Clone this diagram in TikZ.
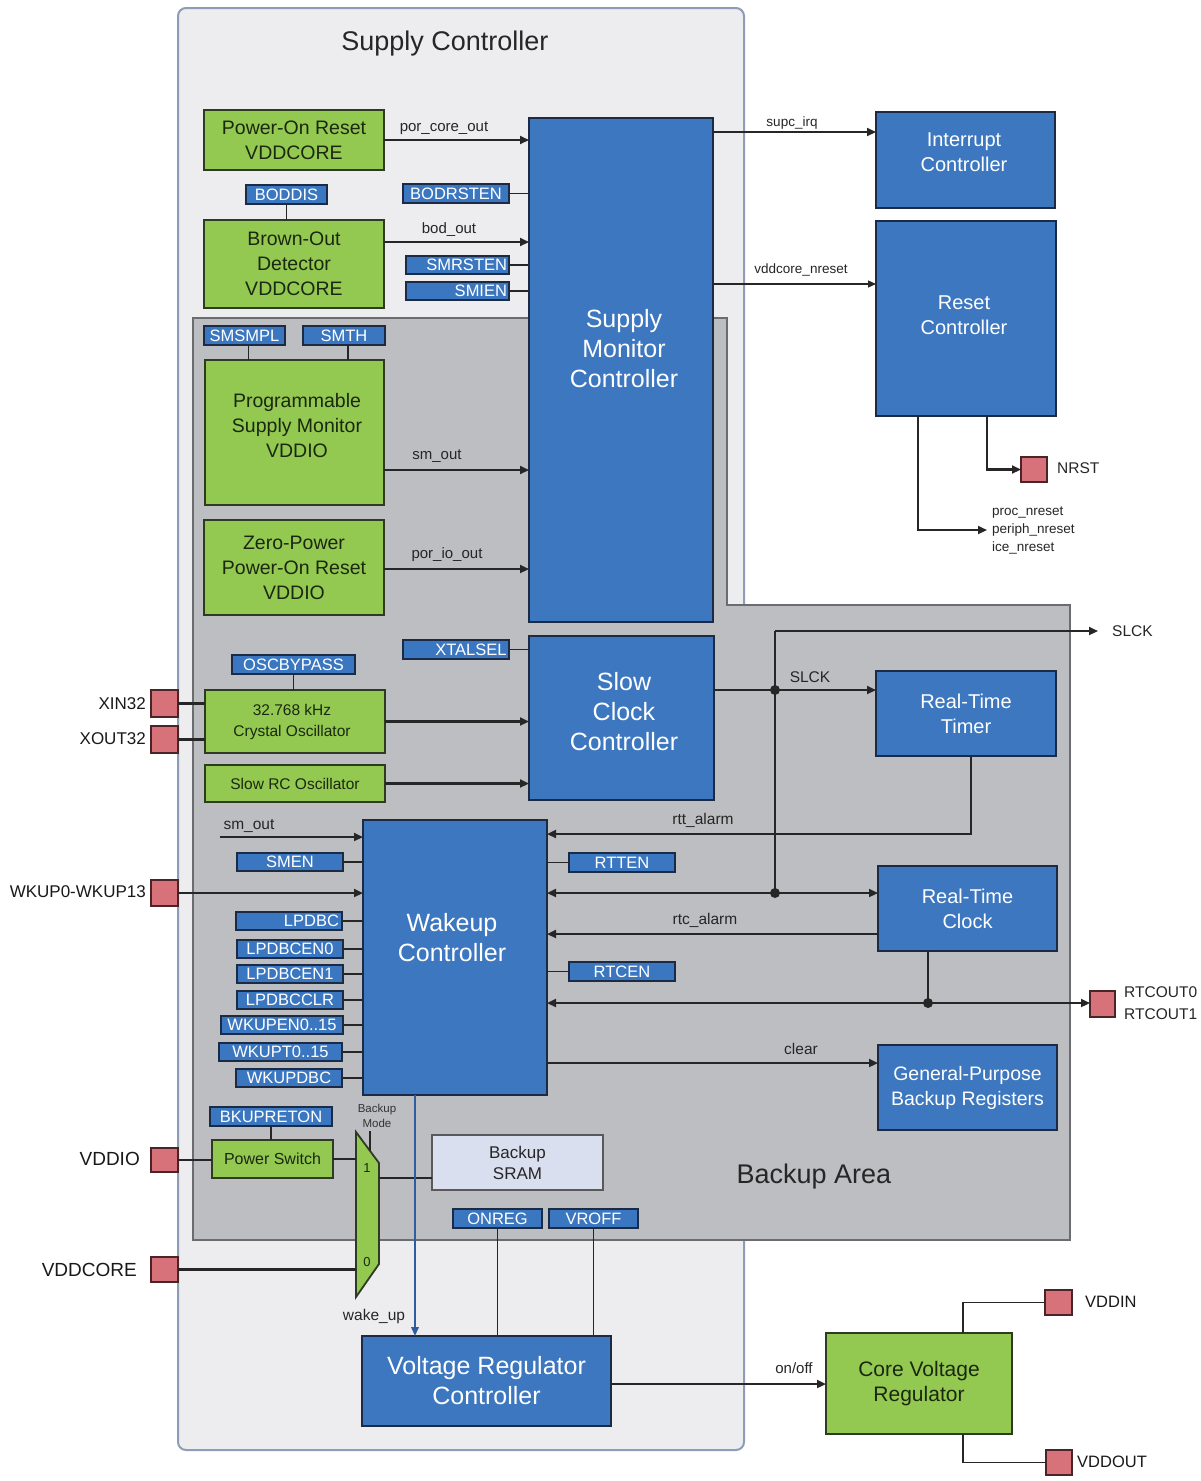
\documentclass[tikz,border=0pt]{standalone}
\usepackage{fontspec}
\setmainfont{Liberation Sans}
\usetikzlibrary{arrows.meta}
\definecolor{bblue}{HTML}{3C77BF}
\definecolor{bdark}{HTML}{1C2B45}
\definecolor{ggreen}{HTML}{93C851}
\definecolor{gdark}{HTML}{2E3B22}
\definecolor{gtext}{HTML}{1B2810}
\definecolor{rblue}{HTML}{3B77C0}
\definecolor{padc}{HTML}{D8727A}
\definecolor{pdark}{HTML}{4A2426}
\definecolor{scbg}{HTML}{EDEDF0}
\definecolor{scbd}{HTML}{8D9DB8}
\definecolor{bkg}{HTML}{BDBEC1}
\definecolor{bkbd}{HTML}{6B6C6F}
\definecolor{sramc}{HTML}{D9DFEF}
\definecolor{wcol}{HTML}{262626}
\definecolor{wblue}{HTML}{2F5E9E}
\newcommand\myfs[2]{\fontsize{#1}{#2}\selectfont}
\newcommand\rtext[2]{\makebox[#1pt][r]{#2}}
\newcommand\mkbox[7]{\node[#1, anchor=north west, minimum width={#5-#3}, minimum height={#6-#4}] (#2) at (#3,#4) {#7};}
\begin{document}
\begin{tikzpicture}[x=1pt,y=-1pt,
 blk/.style={draw=bdark, fill=bblue, line width=2pt, text=white, align=center, inner sep=0pt, outer sep=0pt, font=\myfs{20}{25}},
 bigtxt/.style={text=white, align=center, font=\myfs{25}{30}, inner sep=0pt},
 grn/.style={draw=gdark, fill=ggreen, line width=2pt, text=gtext, align=center, inner sep=0pt, outer sep=0pt, font=\myfs{19.5}{25}},
 gtxt/.style={text=gtext, align=center, font=\myfs{19.5}{25}, inner sep=0pt},
 reg/.style={draw=bdark, fill=rblue, line width=1.7pt, text=white, inner sep=0pt, outer sep=0pt, font=\myfs{16.5}{18}},
 padbox/.style={draw=pdark, fill=padc, line width=1.6pt, inner sep=0pt, outer sep=0pt},
 srambox/.style={draw=gray!70!black, fill=sramc, line width=1.4pt, text=black!85, align=center, inner sep=0pt, outer sep=0pt, font=\myfs{17}{21}},
 wire/.style={draw=wcol, line width=2.1pt},
 rwire/.style={draw=wcol, line width=1.7pt},
 twire/.style={draw=wcol, line width=1.2pt},
 arr/.style={wire, -{Triangle[length=9pt,width=8pt]}},
 tarr/.style={twire, -{Triangle[length=8pt,width=7pt]}},
 sig/.style={font=\myfs{15}{18}, text=black!85, inner sep=0pt},
 smallsig/.style={font=\myfs{13.5}{18}, text=black!85, inner sep=0pt},
 pinlbl/.style={font=\myfs{17}{22}, text=black!90, inner sep=0pt},
 title/.style={font=\myfs{27}{32}, text=black!85, inner sep=0pt},
]
\useasboundingbox (0,0) rectangle (1201,1481);
\fill[white] (0,0) rectangle (1201,1481);

% areas
\draw[fill=scbg, draw=scbd, line width=2pt, rounded corners=8pt] (178,8) rectangle (744,1450);
\node[title] (sctitle) at (445,44) {Supply Controller};
\draw[fill=bkg, draw=bkbd, line width=1.8pt] (193,318) -- (727,318) -- (727,605) -- (1070,605) -- (1070,1240) -- (193,1240) -- cycle;
\node[title] (batitle) at (814,1177) {Backup Area};

% top section
\mkbox{grn}{por}{204}{110}{384}{170}{Power-On Reset\\VDDCORE}
\mkbox{reg}{boddis}{246}{185}{327}{204}{BODDIS}
\mkbox{grn}{bod}{204}{220}{384}{308}{Brown-Out\\Detector\\VDDCORE}
\mkbox{blk}{smc}{529}{118}{713}{622}{}
\node[bigtxt] (smct) at (624,349) {Supply\\Monitor\\Controller};
\mkbox{reg}{bodrsten}{403}{184}{509}{203}{BODRSTEN}
\mkbox{reg}{smrsten}{406}{256}{509}{274}{\rtext{99}{SMRSTEN}}
\mkbox{reg}{smien}{406}{282}{509}{300}{\rtext{99}{SMIEN}}
\mkbox{reg}{smsmpl}{204}{326}{285}{345}{SMSMPL}
\mkbox{reg}{smth}{303}{326}{385}{345}{SMTH}
\mkbox{grn}{psm}{205}{360}{384}{505}{}
\node[gtxt] (psmt) at (297,426) {Programmable\\Supply Monitor\\VDDIO};
\mkbox{grn}{zppor}{204}{520}{384}{615}{Zero-Power\\Power-On Reset\\VDDIO}

\mkbox{blk}{ic}{876}{112}{1055}{208}{}
\node[blk, draw=none, fill=none] (ict) at (964,152) {Interrupt\\Controller};
\mkbox{blk}{rc}{876}{221}{1056}{416}{}
\node[blk, draw=none, fill=none] (rct) at (964,315) {Reset\\Controller};
\mkbox{padbox}{nrst}{1021}{457}{1047}{482}{}
\node[sig, anchor=west, font=\myfs{15.5}{18}] (nrstl) at (1057,468) {NRST};
\coordinate (rstout) at (987,530);
\node[smallsig, anchor=west, align=left] (rstl) at (992,530) {proc\_nreset\\periph\_nreset\\ice\_nreset};

% clock section
\mkbox{reg}{oscbypass}{232}{655}{355}{674}{OSCBYPASS}
\mkbox{grn,font=\myfs{15.5}{21}}{xtal}{205}{690}{385}{753}{}
\node[gtxt, font=\myfs{15.5}{21}] (xtalt) at (292,722) {32.768 kHz\\Crystal Oscillator};
\mkbox{padbox}{xin}{151}{690}{178}{717}{}
\mkbox{padbox}{xout}{151}{726}{178}{753}{}
\node[pinlbl, anchor=east] (xinl) at (146,704) {XIN32};
\node[pinlbl, anchor=east] (xoutl) at (146,739) {XOUT32};
\mkbox{grn,font=\myfs{15.5}{19}}{rcosc}{205}{765}{385}{802}{Slow RC Oscillator}
\mkbox{reg}{xtalsel}{403}{640}{509}{659}{\rtext{101}{XTALSEL}}
\mkbox{blk}{scc}{529}{636}{714}{800}{}
\node[bigtxt] (scct) at (624,712) {Slow\\Clock\\Controller};
\mkbox{blk}{rtt}{876}{671}{1056}{756}{Real-Time\\Timer}

% wakeup section
\mkbox{blk}{wc}{363}{820}{547}{1095}{}
\node[bigtxt] (wct) at (452,938) {Wakeup\\Controller};
\mkbox{reg}{smen}{237}{853}{343}{871}{SMEN}
\mkbox{padbox}{wkup}{151}{880}{178}{906}{}
\node[pinlbl, anchor=east] (wkupl) at (146,892) {WKUP0-WKUP13};
\mkbox{reg}{lpdbc}{236}{912}{342}{930}{\rtext{100}{LPDBC}}
\mkbox{reg}{lpdbcen0}{237}{940}{343}{958}{LPDBCEN0}
\mkbox{reg}{lpdbcen1}{237}{965}{343}{983}{LPDBCEN1}
\mkbox{reg}{lpdbcclr}{237}{991}{343}{1009}{LPDBCCLR}
\mkbox{reg}{wkupen}{221}{1016}{343}{1034}{WKUPEN0..15}
\mkbox{reg}{wkupt}{219}{1043}{342}{1061}{WKUPT0..15}
\mkbox{reg}{wkupdbc}{236}{1069}{342}{1087}{WKUPDBC}
\mkbox{reg}{rtten}{569}{853}{675}{872}{RTTEN}
\mkbox{blk}{rtc}{878}{866}{1057}{951}{Real-Time\\Clock}
\mkbox{reg}{rtcen}{569}{962}{675}{981}{RTCEN}
\mkbox{padbox}{rtcout}{1090}{991}{1115}{1017}{}
\node[sig, anchor=west, align=left, font=\myfs{15.5}{22}] (rtcoutl) at (1124,1003) {RTCOUT0\\RTCOUT1};
\mkbox{blk,font=\myfs{19.5}{25}}{gpbr}{878}{1045}{1057}{1130}{General-Purpose\\Backup Registers}

% power section
\mkbox{reg}{bkupreton}{210}{1107}{332}{1126}{BKUPRETON}
\mkbox{grn,font=\myfs{16}{19}}{ps}{212}{1140}{333}{1178}{Power Switch}
\mkbox{padbox}{vddio}{151}{1148}{178}{1172}{}
\node[pinlbl, anchor=east, font=\myfs{19}{22}] (vddiol) at (140,1159) {VDDIO};
\mkbox{padbox}{vddcore}{151}{1257}{178}{1282}{}
\node[pinlbl, anchor=east, font=\myfs{19}{22}] (vddcorel) at (137,1270) {VDDCORE};
\mkbox{srambox}{sram}{432}{1135}{603}{1190}{Backup\\SRAM}
\mkbox{reg}{onreg}{453}{1209}{542}{1228}{ONREG}
\mkbox{reg}{vroff}{549}{1209}{638}{1228}{VROFF}
\mkbox{blk,font=\myfs{25}{30}}{vrc}{362}{1336}{611}{1426}{Voltage Regulator\\Controller}
\mkbox{grn,font=\myfs{21}{25}}{cvr}{826}{1333}{1012}{1434}{Core Voltage\\Regulator}
\mkbox{padbox}{vddin}{1045}{1290}{1072}{1315}{}
\node[pinlbl, anchor=west, font=\myfs{16.5}{20}] (vddinl) at (1085,1302) {VDDIN};
\mkbox{padbox}{vddout}{1046}{1450}{1072}{1475}{}
\node[pinlbl, anchor=west, font=\myfs{16.5}{20}] (vddoutl) at (1077,1462) {VDDOUT};

% multiplexer
\draw[fill=ggreen, draw=gdark, line width=1.8pt] (356,1132) -- (379,1163) -- (379,1264) -- (356,1297) -- cycle;
\coordinate (mux1) at (356,1161);
\coordinate (mux0) at (356,1270);
\coordinate (muxo) at (379,1178);
\coordinate (muxsel) at (370,1151);
\node[font=\myfs{13}{15}, text=gtext, inner sep=0pt] (m1) at (367,1168) {1};
\node[font=\myfs{13}{15}, text=gtext, inner sep=0pt] (m0) at (367,1262) {0};
\node[font=\myfs{11.5}{15}, text=black!80, align=center, inner sep=0pt] (bmode) at (377,1116) {Backup\\Mode};
\draw[twire] (370,1131) -- (muxsel);

% connectors: top
\draw[arr] (por.east) -- (por.east -| smc.west);
\node[sig] at (444,128) {por\_core\_out};
\draw[rwire] (boddis.south) -- (boddis.south |- bod.north);
\draw[rwire] (bodrsten.east) -- (bodrsten.east -| smc.west);
\draw[arr] (bod.east |- 0,242) -- (smc.west |- 0,242);
\node[sig] at (449,230) {bod\_out};
\draw[rwire] (smrsten.east) -- (smrsten.east -| smc.west);
\draw[rwire] (smien.east) -- (smien.east -| smc.west);
\draw[rwire] ([xshift=4pt]smsmpl.south) -- ([xshift=4pt]smsmpl.south |- psm.north);
\draw[rwire] ([xshift=4pt]smth.south) -- ([xshift=4pt]smth.south |- psm.north);
\draw[arr] (psm.east |- 0,470) -- (smc.west |- 0,470);
\node[sig] at (437,456) {sm\_out};
\draw[arr] (zppor.east |- 0,569) -- (smc.west |- 0,569);
\node[sig] at (447,555) {por\_io\_out};
\draw[arr] (smc.east |- 0,132) -- (ic.west |- 0,132);
\node[smallsig] at (792,123) {supc\_irq};
\draw[tarr] (smc.east |- 0,284) -- (rc.west |- 0,284);
\node[smallsig] at (801,270) {vddcore\_nreset};
\draw[arr] (rc.south -| 987,0) |- (nrst.west);
\draw[arr] (rc.south -| 918,0) |- (rstout);

% connectors: clock
\draw[rwire] (oscbypass.south) -- (oscbypass.south |- xtal.north);
\draw[wire] (xin.east) -- (xin.east -| xtal.west);
\draw[wire] (xout.east) -- (xout.east -| xtal.west);
\draw[arr] (xtal.east) -- (xtal.east -| scc.west);
\draw[arr] (rcosc.east) -- (rcosc.east -| scc.west);
\draw[rwire] (xtalsel.east) -- (xtalsel.east -| scc.west);
\coordinate (j1) at (775,690);
\coordinate (j2) at (775,893);
\coordinate (j3) at (928,1003);
\coordinate (jtop) at (775,631);
\coordinate (slckout) at (1098,631);
\draw[arr] (scc.east |- j1) -- (rtt.west |- j1);
\node[sig, font=\myfs{15.5}{18}] at (810,677) {SLCK};
\draw[wire] (j2) -- (jtop);
\draw[arr] (jtop) -- (slckout);
\node[sig, anchor=west, font=\myfs{15.5}{18}] (slckl) at (1112,631) {SLCK};
\fill[wcol] (j1) circle (5pt);

% connectors: wakeup
\draw[arr] (rtt.south -| 971,0) |- (wc.east |- 0,834);
\node[sig, font=\myfs{15.5}{18}] at (703,820) {rtt\_alarm};
\coordinate (smin) at (220,837);
\draw[arr] (smin) -- (wc.west |- smin);
\node[sig, font=\myfs{15.5}{18}] at (249,826) {sm\_out};
\draw[rwire] (smen.east) -- (smen.east -| wc.west);
\draw[arr] (wkup.east) -- (wkup.east -| wc.west);
\foreach \r in {lpdbc,lpdbcen0,lpdbcen1,lpdbcclr,wkupen,wkupt,wkupdbc}
  \draw[rwire] (\r.east) -- (\r.east -| wc.west);
\draw[rwire] (rtten.west) -- (rtten.west -| wc.east);
\draw[arr] (j2) -- (wc.east |- j2);
\draw[arr] (j2) -- (rtc.west |- j2);
\fill[wcol] (j2) circle (5pt);
\draw[arr] (rtc.west |- 0,934) -- (wc.east |- 0,934);
\node[sig, font=\myfs{15.5}{18}] at (705,920) {rtc\_alarm};
\draw[rwire] (rtcen.west) -- (rtcen.west -| wc.east);
\draw[wire] (rtc.south -| j3) -- (j3);
\draw[arr] (j3) -- (wc.east |- j3);
\draw[arr] (j3) -- (rtcout.west |- j3);
\fill[wcol] (j3) circle (5pt);
\draw[arr] (wc.east |- 0,1063) -- (gpbr.west |- 0,1063);
\node[sig, font=\myfs{15.5}{18}] at (801,1049) {clear};

% connectors: power
\draw[rwire] (bkupreton.south) -- (bkupreton.south |- ps.north);
\draw[wire] (vddio.east) -- (vddio.east -| ps.west);
\draw[wire] (ps.east) -- (ps.east -| mux1);
\draw[wire] (vddcore.east) -- (vddcore.east -| mux0);
\draw[twire] (muxo) -- (sram.west |- muxo);
\draw[draw=wblue, line width=2pt, -{Triangle[length=9pt,width=7.5pt]}] (wc.south -| 415,0) -- (vrc.north -| 415,0);
\node[sig, font=\myfs{15.5}{18}] at (374,1316) {wake\_up};
\draw[twire] (onreg.south) -- (onreg.south |- vrc.north);
\draw[twire] (vroff.south) -- (vroff.south |- vrc.north);
\draw[arr] (vrc.east |- 0,1384) -- (cvr.west |- 0,1384);
\node[sig] at (794,1368) {on/off};
\draw[rwire] (cvr.north -| 963,0) |- (vddin.west);
\draw[rwire] (cvr.south -| 963,0) |- (vddout.west);
\end{tikzpicture}
\end{document}
